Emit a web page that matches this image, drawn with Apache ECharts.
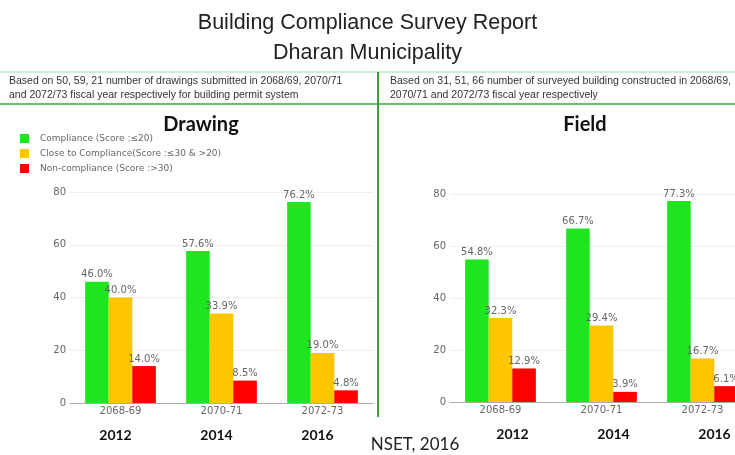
<!DOCTYPE html>
<html>
<head>
<meta charset="utf-8">
<script src="https://cdn.jsdelivr.net/npm/echarts@6/dist/echarts.min.js"></script>
<style>
  html, body { margin: 0; padding: 0; background: #fff; }
  #chart { width: 735px; height: 455px; }
</style>
</head>
<body>
<div id="chart"></div>
<script>
  var categories = ['2068-69', '2070-71', '2072-73']
  var years = ['2012', '2014', '2016']
  var seriesNames = ['Compliance (Score :≤20)', 'Close to Compliance(Score :≤30 & >20)', 'Non-compliance (Score :>30)']
  var drawingCompliance = [46.0, 57.6, 76.2]
  var drawingClose = [40.0, 33.9, 19.0]
  var drawingNon = [14.0, 8.5, 4.8]
  var fieldCompliance = [54.8, 66.7, 77.3]
  var fieldClose = [32.3, 29.4, 16.7]
  var fieldNon = [12.9, 3.9, 6.1]
  var yTicks = [0, 20, 40, 60, 80]

  var colors = ['#1ee61e', '#ffc600', '#ff0000']
  var grey = '#666'
  var lineGreen = '#6cbf6c'

  var chart = echarts.init(document.getElementById('chart'))

  function bars(name, data, idx, color) {
    return {
      name: name,
      type: 'bar',
      xAxisIndex: idx * 2,
      yAxisIndex: idx,
      data: data,
      barGap: '0%',
      barCategoryGap: '30%',
      itemStyle: { color: color },
      label: {
        show: true,
        position: 'top',
        distance: 2,
        color: grey,
        fontSize: 10,
        fontFamily: 'DejaVu Sans',
        formatter: function (p) { return p.value.toFixed(1) + '%' }
      }
    }
  }

  function valueAxis(idx) {
    return {
      type: 'value',
      gridIndex: idx,
      min: yTicks[0],
      max: yTicks[yTicks.length - 1],
      interval: 20,
      axisLine: { show: false },
      axisTick: { show: false },
      axisLabel: { color: grey, fontSize: 10, fontFamily: 'DejaVu Sans', margin: 4 },
      splitLine: { lineStyle: { color: '#eeeeee' } }
    }
  }

  function catAxis(idx) {
    return {
      type: 'category',
      gridIndex: idx,
      data: categories,
      axisLine: { lineStyle: { color: '#aaaaaa' } },
      axisTick: { show: false },
      axisLabel: { color: grey, fontSize: 10, fontFamily: 'DejaVu Sans', margin: 3 }
    }
  }

  function yearAxis(idx, pad) {
    return {
      type: 'category',
      gridIndex: idx,
      position: 'bottom',
      offset: 22,
      data: years,
      axisLine: { show: false },
      axisTick: { show: false },
      axisLabel: {
        color: '#111', fontSize: 14, fontWeight: 'bold', fontFamily: 'Lato',
        margin: 3, padding: pad
      }
    }
  }

  chart.setOption({
    backgroundColor: '#fff',
    animation: false,
    title: [
      {
        text: 'Building Compliance Survey Report\nDharan Municipality',
        left: 'center',
        top: 3,
        textStyle: { fontSize: 21.5, lineHeight: 30, fontWeight: 'normal', color: '#222', fontFamily: 'Liberation Sans' }
      },
      {
        text: 'Based on 50, 59, 21 number of drawings submitted in 2068/69, 2070/71\nand 2072/73 fiscal year respectively for building permit system',
        left: 9,
        top: 74,
        padding: 0,
        textStyle: { fontSize: 10.5, lineHeight: 14, fontWeight: 'normal', color: '#333', fontFamily: 'Liberation Sans' }
      },
      {
        text: 'Based on 31, 51, 66 number of surveyed building constructed in 2068/69,\n2070/71 and 2072/73 fiscal year respectively',
        left: 390,
        top: 74,
        padding: 0,
        textStyle: { fontSize: 10.5, lineHeight: 14, fontWeight: 'normal', color: '#333', fontFamily: 'Liberation Sans' }
      },
      {
        text: 'Drawing',
        left: 201,
        textAlign: 'center',
        top: 115,
        padding: 0,
        textStyle: { fontSize: 20, fontWeight: 'bold', color: '#111', fontFamily: 'Lato' }
      },
      {
        text: 'Field',
        left: 585,
        textAlign: 'center',
        top: 115,
        padding: 0,
        textStyle: { fontSize: 20, fontWeight: 'bold', color: '#111', fontFamily: 'Lato' }
      },
      {
        text: 'NSET, 2016',
        left: 415,
        textAlign: 'center',
        top: 436,
        padding: 0,
        textStyle: { fontSize: 17, fontWeight: 'normal', color: '#222', fontFamily: 'Lato' }
      }
    ],
    legend: {
      orient: 'vertical',
      left: 20,
      top: 134,
      padding: 0,
      itemWidth: 9,
      itemHeight: 9,
      itemGap: 6,
      icon: 'rect',
      data: seriesNames,
      textStyle: { color: grey, fontSize: 9, fontFamily: 'DejaVu Sans', padding: [0, 0, 0, 6] }
    },
    graphic: [
      { type: 'line', shape: { x1: 0, y1: 72, x2: 735, y2: 72 }, style: { stroke: '#a8d8a8', lineWidth: 1 } },
      { type: 'line', shape: { x1: 0, y1: 104, x2: 735, y2: 104 }, style: { stroke: lineGreen, lineWidth: 2 } },
      { type: 'line', shape: { x1: 378, y1: 72, x2: 378, y2: 417 }, style: { stroke: '#3f9f3f', lineWidth: 2 } }
    ],
    grid: [
      { left: 70, top: 192, width: 303, height: 211, outerBoundsMode: 'none' },
      { left: 450, top: 194, width: 303, height: 208, outerBoundsMode: 'none' }
    ],
    xAxis: [
      catAxis(0),
      yearAxis(0, [0, 10, 0, 0]),
      catAxis(1),
      yearAxis(1, [0, 0, 0, 24])
    ],
    yAxis: [valueAxis(0), valueAxis(1)],
    series: [
      bars(seriesNames[0], drawingCompliance, 0, colors[0]),
      bars(seriesNames[1], drawingClose, 0, colors[1]),
      bars(seriesNames[2], drawingNon, 0, colors[2]),
      bars(seriesNames[0], fieldCompliance, 1, colors[0]),
      bars(seriesNames[1], fieldClose, 1, colors[1]),
      bars(seriesNames[2], fieldNon, 1, colors[2])
    ]
  })

  window.addEventListener('resize', function () { chart.resize() })
</script>
</body>
</html>
